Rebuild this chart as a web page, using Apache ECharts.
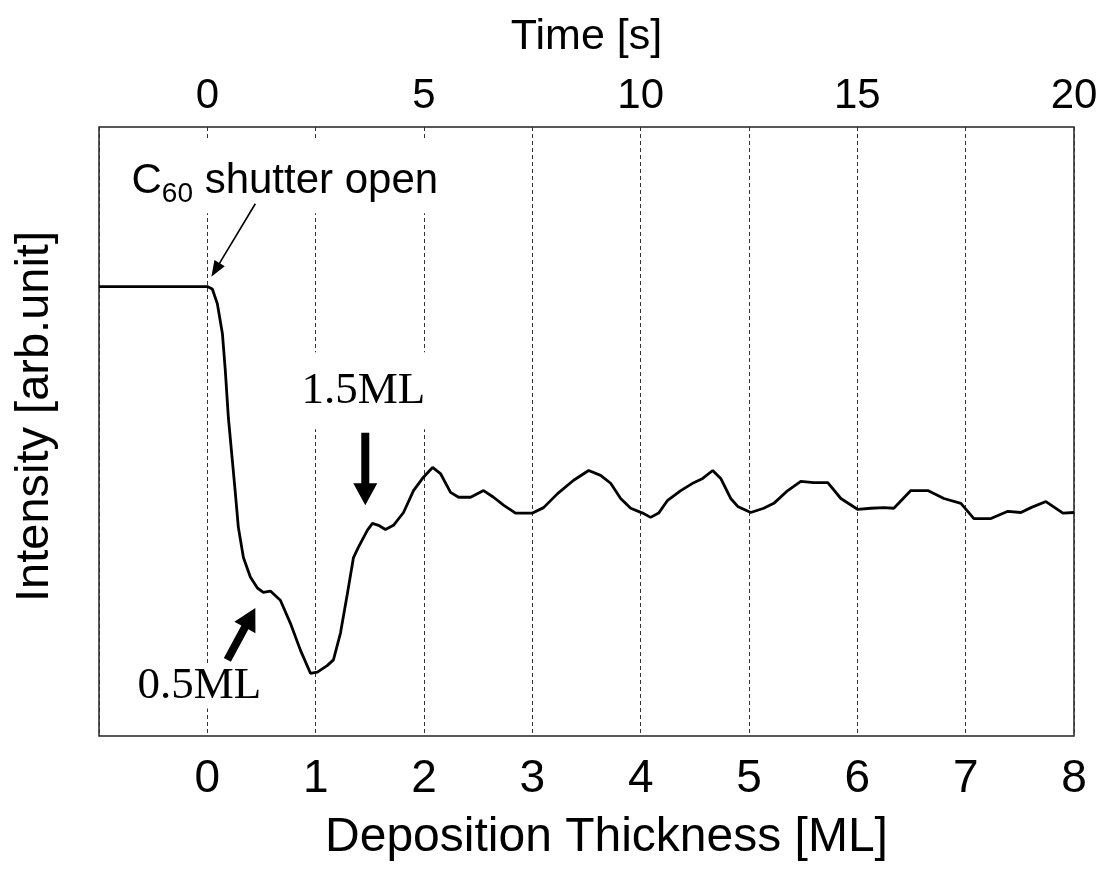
<!DOCTYPE html>
<html>
<head>
<meta charset="utf-8">
<script src="https://cdn.jsdelivr.net/npm/echarts@6/dist/echarts.min.js"></script>
<style>
  html, body { margin: 0; background: #fff; }
  #chart { width: 1103px; height: 880px; }
</style>
</head>
<body>
<div id="chart"></div>
<script>
// RHEED intensity vs C60 deposition thickness (arb. units)
const thickness = [
  -1.0, 0.0, 0.046, 0.092, 0.139, 0.166, 0.194, 0.231, 0.259, 0.286,
  0.333, 0.397, 0.462, 0.517, 0.582, 0.674, 0.767, 0.859, 0.952, 1.016,
  1.109, 1.164, 1.229, 1.293, 1.349, 1.395, 1.478, 1.524, 1.580, 1.644,
  1.718, 1.811, 1.903, 1.995, 2.079, 2.152, 2.245, 2.319, 2.430, 2.550,
  2.642, 2.734, 2.845, 3.002, 3.104, 3.233, 3.381, 3.520, 3.630, 3.723,
  3.815, 3.908, 4.018, 4.092, 4.166, 4.249, 4.370, 4.490, 4.573, 4.665,
  4.739, 4.831, 4.896, 5.016, 5.136, 5.229, 5.358, 5.478, 5.598, 5.727,
  5.848, 6.005, 6.125, 6.245, 6.337, 6.494, 6.651, 6.799, 6.956, 7.076,
  7.233, 7.390, 7.510, 7.603, 7.741, 7.898, 8.0
];
const intensity = [
  7.38, 7.38, 7.34, 7.10, 6.61, 6.00, 5.23, 4.52, 3.98, 3.43,
  2.93, 2.61, 2.43, 2.36, 2.38, 2.23, 1.85, 1.41, 1.03, 1.05,
  1.16, 1.25, 1.69, 2.34, 2.93, 3.10, 3.38, 3.49, 3.46, 3.39,
  3.46, 3.67, 4.03, 4.25, 4.41, 4.31, 4.00, 3.92, 3.92, 4.03,
  3.92, 3.79, 3.66, 3.66, 3.75, 3.98, 4.20, 4.36, 4.28, 4.15,
  3.90, 3.74, 3.66, 3.59, 3.66, 3.87, 4.03, 4.16, 4.23, 4.36,
  4.23, 3.90, 3.77, 3.67, 3.74, 3.82, 4.03, 4.18, 4.16, 4.16,
  3.90, 3.72, 3.74, 3.75, 3.74, 4.03, 4.03, 3.90, 3.82, 3.57,
  3.57, 3.69, 3.67, 3.75, 3.85, 3.66, 3.67
];
const thicknessTicks = [0, 1, 2, 3, 4, 5, 6, 7, 8];
const timeTicks = [0, 5, 10, 15, 20];
const secondsPerML = 2.5;

// annotations, in data coordinates [thickness, intensity]
const noteTexts = ['1.5ML', '0.5ML'];
const notePos = [[1.44, 5.67], [-0.074, 0.82]];
const thickArrowFrom = [[1.458, 4.98], [0.185, 1.25]];
const thickArrowTo = [[1.458, 3.79], [0.443, 2.10]];
const shutterPos = [-0.70, 9.11];
const shutterArrowFrom = [0.443, 8.74];
const shutterArrowTo = [0.037, 7.54];

const sans = '"Liberation Sans", Arial, sans-serif';
const serif = '"Liberation Serif", "Times New Roman", serif';

const chart = echarts.init(document.getElementById('chart'));
chart.setOption({
  animation: false,
  grid: { left: 99, right: 29, top: 127, bottom: 144, show: true, borderColor: '#222', borderWidth: 1.5 },
  xAxis: [
    {
      type: 'value', min: -1, max: 8, interval: 1, position: 'bottom',
      name: 'Deposition Thickness [ML]', nameLocation: 'middle', nameGap: 78,
      nameTextStyle: { fontFamily: sans, fontSize: 48, color: '#000', padding: [0, 0, 0, 40] },
      axisLine: { show: false }, axisTick: { show: false },
      axisLabel: {
        fontFamily: sans, fontSize: 46, color: '#000', margin: 20,
        formatter: (v) => (thicknessTicks.includes(v) ? String(v) : '')
      },
      splitLine: { show: true, lineStyle: { color: '#333', width: 1, type: [4, 3] } }
    },
    {
      type: 'value', min: -1 * secondsPerML, max: 8 * secondsPerML, interval: 2.5, position: 'top',
      name: 'Time [s]', nameLocation: 'middle', nameGap: 68,
      nameTextStyle: { fontFamily: sans, fontSize: 43, color: '#000' },
      axisLine: { show: false }, axisTick: { show: false }, splitLine: { show: false },
      axisLabel: {
        fontFamily: sans, fontSize: 42, color: '#000', margin: 10,
        formatter: (v) => (timeTicks.includes(v) ? String(v) : '')
      }
    }
  ],
  yAxis: {
    type: 'value', min: 0, max: 10,
    name: 'Intensity [arb.unit]', nameLocation: 'middle', nameGap: 40, nameRotate: 90,
    nameTextStyle: { fontFamily: sans, fontSize: 47, color: '#000', padding: [0, 0, 0, 30] },
    axisLine: { show: false }, axisTick: { show: false },
    axisLabel: { show: false }, splitLine: { show: false }
  },
  series: [{
    type: 'line',
    data: thickness.map((x, i) => [x, intensity[i]]),
    showSymbol: false,
    lineStyle: { color: '#000', width: 2.8 },
    z: 3
  }]
});

const px = (p) => chart.convertToPixel({ xAxisIndex: 0, yAxisIndex: 0 }, p);

function arrowShape(from, to, shaft, headLen, headHalf) {
  const [x1, y1] = px(from);
  const [x2, y2] = px(to);
  const dx = x2 - x1, dy = y2 - y1, len = Math.hypot(dx, dy);
  const ux = dx / len, uy = dy / len, nx = -uy, ny = ux;
  const bx = x2 - ux * headLen, by = y2 - uy * headLen, s = shaft / 2;
  return [
    [x1 + nx * s, y1 + ny * s], [bx + nx * s, by + ny * s], [bx + nx * headHalf, by + ny * headHalf],
    [x2, y2],
    [bx - nx * headHalf, by - ny * headHalf], [bx - nx * s, by - ny * s], [x1 - nx * s, y1 - ny * s]
  ];
}

const graphics = [];
noteTexts.forEach((t, i) => {
  const [x, y] = px(notePos[i]);
  graphics.push({
    type: 'text', x, y, z: 10,
    style: {
      text: t, fontFamily: serif, fontSize: 45, lineHeight: 45, fill: '#000',
      align: 'center', verticalAlign: 'middle', backgroundColor: '#fff',
      padding: i === 0 ? [20, 4, 12, 4] : [0, 2, 0, 2]
    }
  });
  graphics.push({
    type: 'polygon', z: 11,
    shape: { points: arrowShape(thickArrowFrom[i], thickArrowTo[i], 8, 22, 12) },
    style: { fill: '#000' }
  });
});

// "C60 shutter open" with a real subscript
const ctx = document.createElement('canvas').getContext('2d');
const measure = (s, size) => { ctx.font = size + 'px ' + sans; return ctx.measureText(s).width; };
const [sx, sy] = px(shutterPos);
const wC = measure('C', 42), w60 = measure('60', 28), wRest = measure(' shutter open', 42);
graphics.push({
  type: 'rect', z: 9,
  shape: { x: sx - 6, y: sy - 42, width: wC + w60 + wRest + 12, height: 74 },
  style: { fill: '#fff' }
});
const shutterParts = [['C', 42, 0, 0], ['60', 28, wC, 13], [' shutter open', 42, wC + w60, 0]];
shutterParts.forEach(([s, size, dx, dy]) => {
  graphics.push({
    type: 'text', x: sx + dx, y: sy + dy, z: 10,
    style: { text: s, fontFamily: sans, fontSize: size, fill: '#000', align: 'left', verticalAlign: 'middle' }
  });
});
graphics.push({
  type: 'polygon', z: 11,
  shape: { points: arrowShape(shutterArrowFrom, shutterArrowTo, 1.6, 16, 6) },
  style: { fill: '#000' }
});

chart.setOption({ graphic: graphics });
</script>
</body>
</html>
